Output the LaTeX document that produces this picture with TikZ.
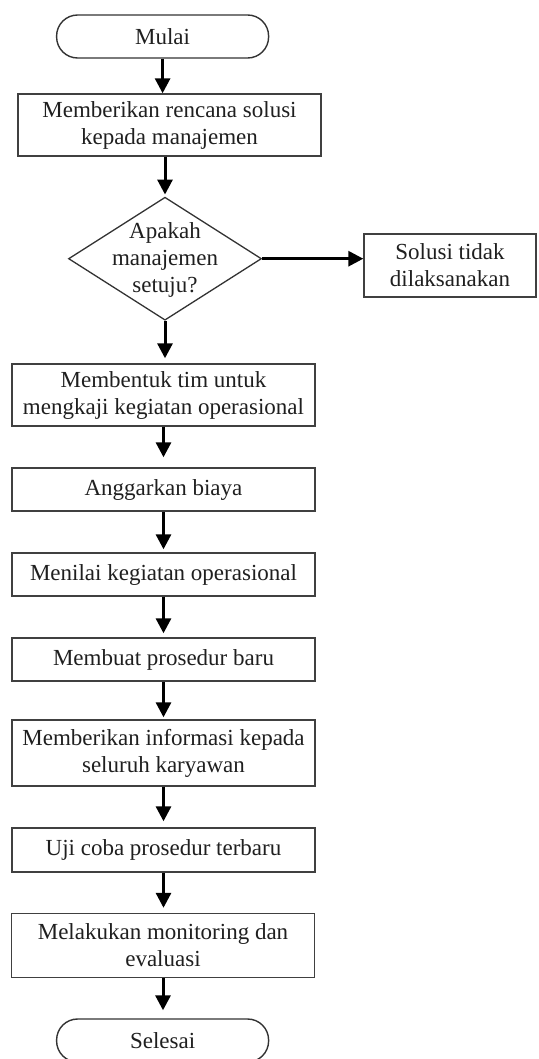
\documentclass[tikz,border=0pt]{standalone}
\usepackage{fontspec}
\setmainfont{Liberation Serif}
\usetikzlibrary{arrows.meta,shapes.geometric}
\begin{document}
\begin{tikzpicture}[x=1pt,y=-1pt,
  every node/.style={font=\fontsize{23}{27}\selectfont, text=black!88},
  procbox/.style={draw=black!75, line width=1.4pt, minimum width=303pt, align=center, inner sep=0pt},
  termbox/.style={draw=black!80, line width=1.4pt, rounded corners=21pt, minimum width=212pt, minimum height=43pt, inner sep=0pt},
  decbox/.style={draw=black!80, diamond, line width=1.3pt, minimum width=193pt, minimum height=123pt, inner sep=0pt},
  flow/.style={draw=black, line width=3pt, -{Triangle[length=15pt,width=15pt]}}]
\useasboundingbox (0,0) rectangle (538,1059);

\node[termbox] (mulai) at (162.6,36.5) {Mulai};
\node[procbox, minimum height=62pt] (rencana) at (169.5,125) {Memberikan rencana solusi\\kepada manajemen};
\node[decbox] (setuju) at (165,258.7) {\raisebox{-8pt}[0pt][0pt]{\makebox[0pt]{\begin{tabular}{@{}c@{}}Apakah\\manajemen\\setuju?\end{tabular}}}};
\node[procbox, minimum width=172pt, minimum height=63pt] (tidak) at (450,265.5) {Solusi tidak\\dilaksanakan};
\node[procbox, minimum height=62pt] (tim) at (163.5,395) {Membentuk tim untuk\\mengkaji kegiatan operasional};
\node[procbox, minimum height=43pt] (biaya) at (163.5,489.5) {Anggarkan biaya};
\node[procbox, minimum height=43pt] (menilai) at (163.5,574.5) {Menilai kegiatan operasional};
\node[procbox, minimum height=43pt] (baru) at (163.5,659.5) {Membuat prosedur baru};
\node[procbox, minimum height=66pt] (info) at (163.5,753) {Memberikan informasi kepada\\seluruh karyawan};
\node[procbox, minimum height=44pt] (uji) at (163.5,850) {Uji coba prosedur terbaru};
\node[procbox, minimum height=64pt] (monitor) at (163,945.5) {Melakukan monitoring dan\\evaluasi};
\node[termbox] (selesai) at (162.6,1040.5) {Selesai};

\draw[flow] (mulai.south) -- (mulai.south |- rencana.north);
\draw[flow, shorten >=2pt] (rencana.south -| setuju.north) -- (setuju.north);
\draw[flow] (setuju.east) -- (setuju.east -| tidak.west);
\draw[flow, shorten >=5pt] (setuju.south) -- (setuju.south |- tim.north);
\draw[flow, shorten >=10pt] (tim.south) -- (biaya.north);
\draw[flow, shorten >=3pt] (biaya.south) -- (menilai.north);
\draw[flow, shorten >=4pt] (menilai.south) -- (baru.north);
\draw[flow, shorten >=2pt] (baru.south) -- (info.north);
\draw[flow, shorten >=6pt] (info.south) -- (uji.north);
\draw[flow, shorten >=5pt] (uji.south) -- (uji.south |- monitor.north);
\draw[flow, shorten >=8pt] (monitor.south) -- (monitor.south |- selesai.north);
\end{tikzpicture}
\end{document}
